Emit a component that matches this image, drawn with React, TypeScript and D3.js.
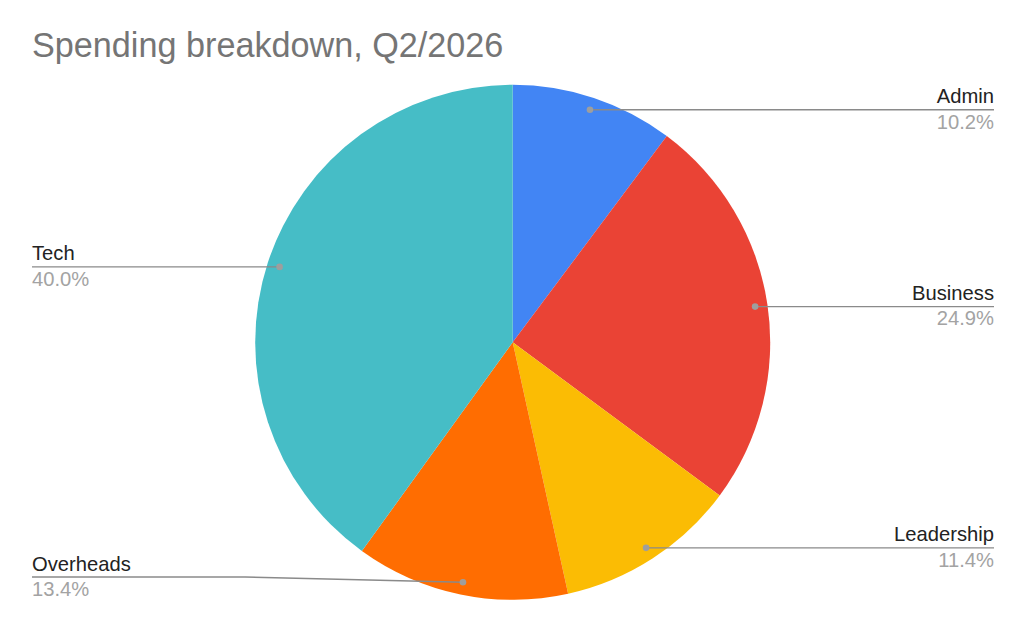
import React from "react";
import * as d3 from "d3";

const categories = ["Admin", "Business", "Leadership", "Overheads", "Tech"];
const values = [10.2, 24.9, 11.4, 13.4, 40.0];
const percentLabels = ["10.2%", "24.9%", "11.4%", "13.4%", "40.0%"];
const colors = ["#4285F4", "#EA4335", "#FBBC04", "#FF6D01", "#46BDC6"];

const W = 1024;
const H = 631;
const CX = 512.7;
const CY = 342.3;
const R = 257.5;
const DOT_R = 245;
const LEFT_X = 32;
const RIGHT_X = 994;
const LABEL_MAX_Y = 577;
const FONT = "'Liberation Sans', Arial, Helvetica, sans-serif";

export default function App() {
  const pie = d3.pie<number>().sort(null).value((d) => d);
  const arcs = pie(values);
  const arcGen = d3.arc<d3.PieArcDatum<number>>().innerRadius(0).outerRadius(R);
  const dotArc = d3.arc<d3.PieArcDatum<number>>().innerRadius(DOT_R).outerRadius(DOT_R);

  return (
    <svg
      width={W}
      height={H}
      viewBox={`0 0 ${W} ${H}`}
      style={{ position: "absolute", left: 0, top: 0, background: "#fff" }}
    >
      <rect width={W} height={H} fill="#fff" />
      <text x={32} y={57} fontFamily={FONT} fontSize={34.2} fill="#757575">
        Spending breakdown, Q2/2026
      </text>
      <g transform={`translate(${CX},${CY})`}>
        {arcs.map((a, i) => (
          <path key={categories[i]} d={arcGen(a) || ""} fill={colors[i]} />
        ))}
      </g>
      {arcs.map((a, i) => {
        const [dx, dy] = dotArc.centroid(a);
        const px = CX + dx;
        const py = CY + dy;
        const mid = (a.startAngle + a.endAngle) / 2;
        const right = mid < Math.PI;
        const ly = Math.min(py, LABEL_MAX_Y);
        let points: [number, number][];
        if (right) {
          points = [[px, py], [RIGHT_X, ly]];
        } else if (Math.abs(ly - py) > 0.5) {
          points = [[LEFT_X, ly], [245, ly], [px, py]];
        } else {
          points = [[LEFT_X, ly], [px, py]];
        }
        const line = d3.line()(points) || "";
        const tx = right ? RIGHT_X : LEFT_X;
        const anchor = right ? "end" : "start";
        return (
          <g key={"l" + categories[i]}>
            <path d={line} fill="none" stroke="#8a8a8a" strokeWidth={1.4} />
            <circle cx={px} cy={py} r={3.3} fill="#9e9e9e" />
            <text x={tx} y={ly - 6.5} textAnchor={anchor} fontFamily={FONT} fontSize={20.2} fill="#222222">
              {categories[i]}
            </text>
            <text x={tx} y={ly + 18.8} textAnchor={anchor} fontFamily={FONT} fontSize={20.2} fill="#a3a3a3">
              {percentLabels[i]}
            </text>
          </g>
        );
      })}
    </svg>
  );
}
